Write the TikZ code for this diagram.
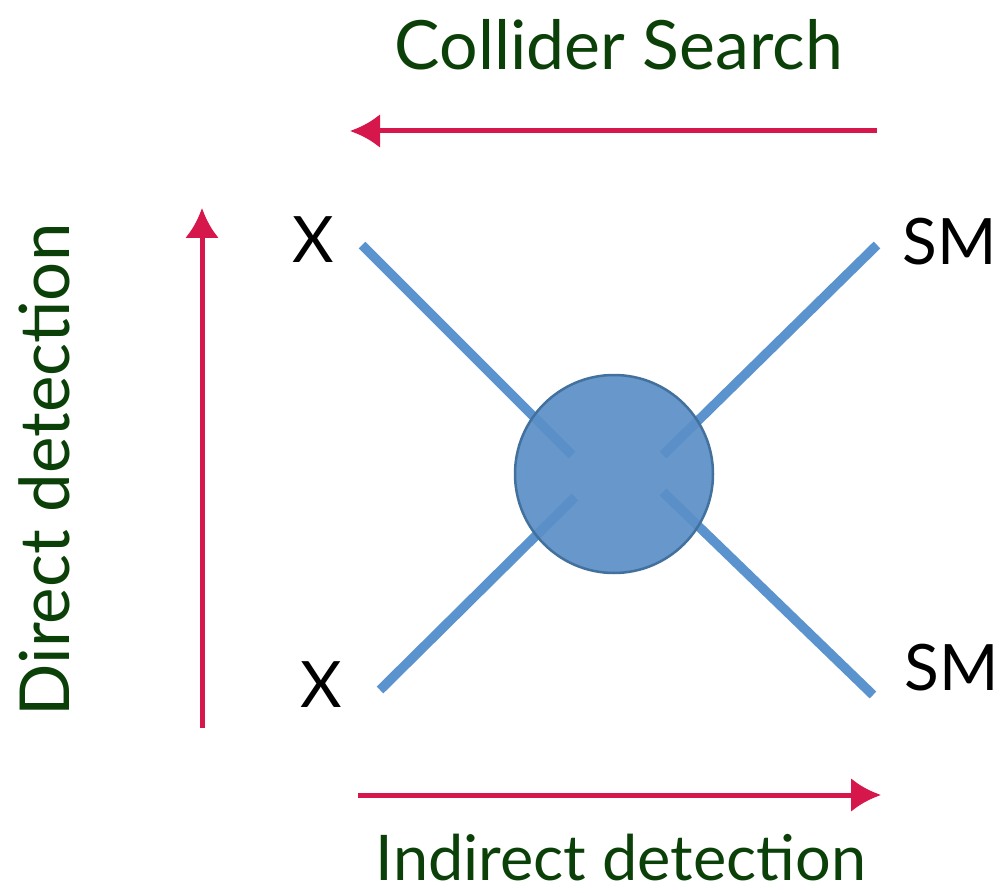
\documentclass[tikz,border=0pt]{standalone}
\usepackage{fontspec}
\setmainfont{Lato}
\usetikzlibrary{arrows.meta}
\definecolor{arrred}{HTML}{D5174B}
\definecolor{lineblue}{HTML}{5A93CD}
\definecolor{circfill}{HTML}{5B8FC7}
\definecolor{circdraw}{HTML}{41719C}
\definecolor{txtgreen}{HTML}{0B4008}
\begin{document}
\begin{tikzpicture}[x=1pt,y=-1pt,
  redarrow/.style={draw=arrred,line width=5pt,-{Latex[length=30pt,width=34pt]}},
  leg/.style={draw=lineblue,line width=9.5pt},
  title/.style={text=txtgreen,inner sep=0pt},
  part/.style={text=black,font=\fontsize{64}{70}\selectfont,inner sep=0pt}]
\useasboundingbox (0,0) rectangle (1001,893);
% titles
\node[title,anchor=base,font=\fontsize{68}{72}\selectfont] (collider) at (619,70) {Collider Search};
\node[title,anchor=base,font=\fontsize{63}{70}\selectfont] (indirect) at (621,880) {Indirect detection};
\node[title,anchor=base,rotate=90,font=\fontsize{69}{72}\selectfont] (direct) at (69,470) {Direct detection};
% arrows
\coordinate (ts) at (877,131); \coordinate (te) at (350,131);
\coordinate (ls) at (202,728); \coordinate (le) at (202,208);
\coordinate (bs) at (358,795); \coordinate (be) at (881,795);
\draw[redarrow] (ts) -- (te);
\draw[redarrow] (ls) -- (le);
\draw[redarrow] (bs) -- (be);
% legs
\coordinate (a1) at (362,245); \coordinate (a2) at (572,455);
\coordinate (b1) at (877,245); \coordinate (b2) at (663,455);
\coordinate (c1) at (380,690); \coordinate (c2) at (575,497);
\coordinate (d1) at (873,695); \coordinate (d2) at (663,492);
\draw[leg] (a1) -- (a2);
\draw[leg] (b1) -- (b2);
\draw[leg] (c1) -- (c2);
\draw[leg] (d1) -- (d2);
% blob
\node[circle,minimum size=198pt,inner sep=0pt,fill=circfill,fill opacity=0.93,draw=circdraw,line width=2.5pt] (blob) at (614,474) {};
% labels
\node[part] (x1) at (313,240) {X};
\node[part] (x2) at (321,685) {X};
\node[part] (sm1) at (950,242) {SM};
\node[part] (sm2) at (952,668) {SM};
\end{tikzpicture}
\end{document}
